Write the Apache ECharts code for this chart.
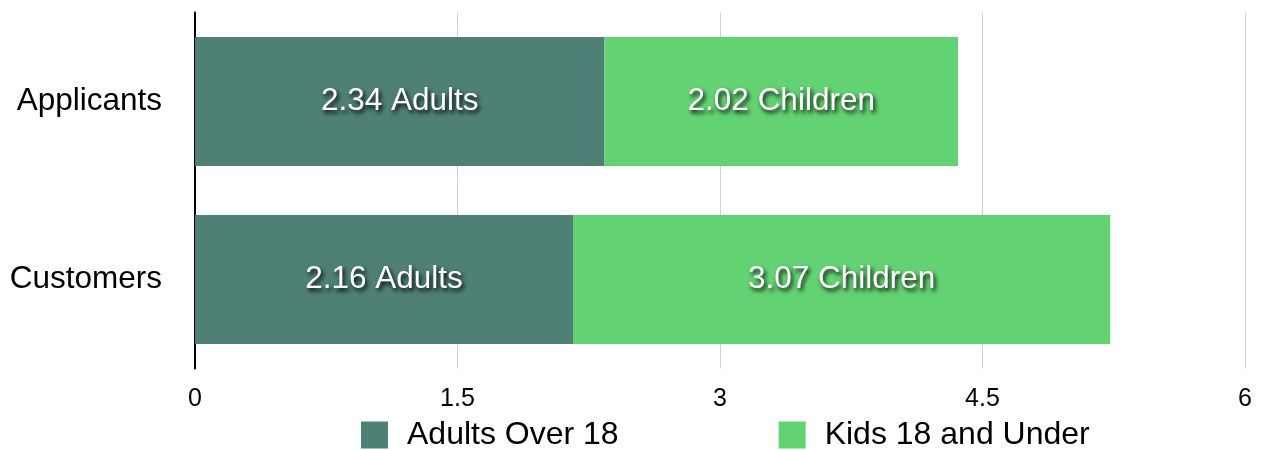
<!DOCTYPE html>
<html><head><meta charset="utf-8">
<script src="https://cdn.jsdelivr.net/npm/echarts@6/dist/echarts.min.js"></script>
<style>html,body{margin:0;padding:0;background:#fff}#c{width:1261px;height:450px}</style>
</head><body><div id="c"></div>
<script>
const categories = ['Applicants', 'Customers'];
const adults = [2.34, 2.16];
const children = [2.02, 3.07];
const seriesNames = ['Adults Over 18', 'Kids 18 and Under'];
const xTicks = [0, 1.5, 3, 4.5, 6];

const FONT = '"Liberation Sans", Arial, Helvetica, sans-serif';
const chart = echarts.init(document.getElementById('c'), null, {renderer: 'canvas'});
const labelStyle = (suffix) => ({
  show: true, position: 'inside', color: '#fff', fontSize: 31.5, fontFamily: FONT,
  textShadowColor: 'rgba(0,0,0,0.95)', textShadowBlur: 4, textShadowOffsetX: 2, textShadowOffsetY: 3,
  formatter: p => p.value.toFixed(2) + ' ' + suffix
});
chart.setOption({
  animation: false,
  grid: {left: 195, right: 16, top: 12.5, height: 356, containLabel: false},
  legend: {
    data: seriesNames, top: 419, left: 356, itemWidth: 27, itemHeight: 27, itemGap: 160,
    padding: [0, 5], icon: 'rect',
    textStyle: {fontSize: 32, lineHeight: 27, fontFamily: FONT, color: '#000', padding: [0,0,0,14]}
  },
  xAxis: {
    type: 'value', min: 0, max: 6, interval: 1.5,
    axisLine: {show: false}, axisTick: {show: false},
    splitLine: {show: true, lineStyle: {color: '#d0d0d0', width: 1}},
    axisLabel: {fontSize: 25, fontFamily: FONT, color: '#000', margin: 18,
      formatter: v => String(xTicks.find(t => Math.abs(t - v) < 1e-9) ?? v)}
  },
  yAxis: {
    type: 'category', data: categories, inverse: true,
    axisLine: {show: true, lineStyle: {color: '#000', width: 2}},
    axisTick: {show: false},
    axisLabel: {fontSize: 31.5, fontFamily: FONT, color: '#000', margin: 33}
  },
  series: [
    {name: seriesNames[0], type: 'bar', stack: 's', data: adults, barCategoryGap: '27.5%',
     itemStyle: {color: '#4e8075'}, label: labelStyle('Adults')},
    {name: seriesNames[1], type: 'bar', stack: 's', data: children, barCategoryGap: '27.5%',
     itemStyle: {color: '#63d273'}, label: labelStyle('Children')}
  ]
});
</script></body></html>
